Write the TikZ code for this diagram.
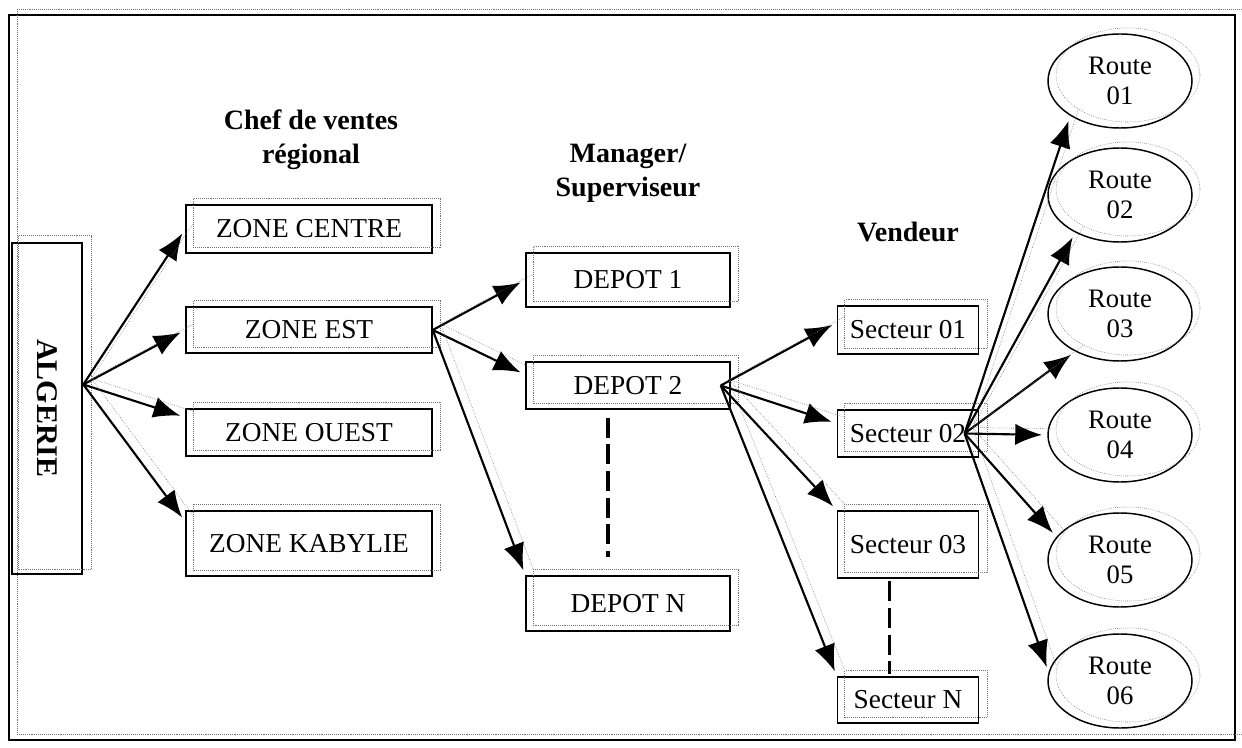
\documentclass[tikz,border=0pt]{standalone}
\usepackage{fontspec}
\setmainfont{Liberation Serif}
\usetikzlibrary{arrows.meta,shapes.geometric}

\begin{document}
\begin{tikzpicture}[x=0.75pt,y=0.75pt,yscale=-1,xscale=1,
  box/.style={draw, line width=1.1pt, inner sep=0pt, font=\fontsize{20.5}{24}\selectfont},
  route/.style={draw, ellipse, line width=1.1pt, minimum width=108pt, minimum height=70.5pt, inner sep=0pt, align=center, font=\fontsize{20}{22.5}\selectfont},
  heading/.style={align=center, font=\bfseries\fontsize{21}{25.5}\selectfont},
  arr/.style={line width=1.6pt, -{Latex[length=20pt,width=16pt]}, shorten >=4pt},
  ghost/.style={draw=black!55, line width=0.45pt, densely dotted, transform canvas={xshift=6pt,yshift=4.5pt}},
  dashlink/.style={line width=2.6pt, dash pattern=on 15pt off 5pt}
]
\useasboundingbox (0,0) rectangle (1242,748);

%Frame
\draw [line width=1.5pt] (9,15) rectangle (1235,740) ;
\draw [ghost] (9,15) rectangle (1235,740) ;

% Text Node
\node [box, line width=2pt, minimum width=52.5pt, minimum height=248.25pt] (alg) at (47,408.5) {\rotatebox{-90}{\bfseries\fontsize{22.5}{26}\selectfont ALGERIE}};
\coordinate (algout) at ([yshift=-18pt]alg.east);

% Text Node
\node [heading] (hchef) at (311,140) {Chef de ventes\\régional};
% Text Node
\node [heading] (hman) at (628,173.5) {Manager/\\Superviseur};
% Text Node
\node [heading] (hvend) at (908,232) {Vendeur};

% Text Node
\node [box, minimum width=184.5pt, minimum height=36pt] (zc) at (309,229) {ZONE CENTRE};
% Text Node
\node [box, minimum width=184.5pt, minimum height=34.5pt] (zest) at (309,330) {ZONE EST};
% Text Node
\node [box, minimum width=184.5pt, minimum height=35.25pt] (zo) at (309,432.5) {ZONE OUEST};
% Text Node
\node [box, minimum width=184.5pt, minimum height=48.75pt] (zk) at (309,543.5) {ZONE KABYLIE};

% Text Node
\node [box, minimum width=153pt, minimum height=40.5pt] (dep1) at (628,280) {DEPOT 1};
% Text Node
\node [box, minimum width=153pt, minimum height=35.25pt] (dep2) at (628,385.5) {DEPOT 2};
% Text Node
\node [box, minimum width=153pt, minimum height=41.25pt] (depN) at (628,603.5) {DEPOT N};
\coordinate (dep2out) at ([xshift=-7.5pt]dep2.east);

% Text Node
\node [box, minimum width=105.75pt, minimum height=36pt] (s1) at (908,330) {Secteur 01};
% Text Node
\node [box, minimum width=105.75pt, minimum height=35.25pt] (s2) at (908,433.5) {Secteur 02};
% Text Node
\node [box, minimum width=105.75pt, minimum height=50.25pt] (s3) at (908,544.5) {Secteur 03};
% Text Node
\node [box, minimum width=105.75pt, minimum height=34.5pt] (sN) at (908,700) {Secteur N};
\coordinate (s2out) at ([xshift=-11pt]s2.east);

%Shape: Ellipse
\node [route] (r1) at (1120,81) {Route\\01};
\node [route] (r2) at (1120,195) {Route\\02};
\node [route] (r3) at (1120,314) {Route\\03};
\node [route] (r4) at (1120,435) {Route\\04};
\node [route] (r5) at (1120,560) {Route\\05};
\node [route] (r6) at (1120,681) {Route\\06};

%Ghost outlines
\draw [ghost] (alg.south west) rectangle (alg.north east) ;
\draw [ghost] (zc.south west) rectangle (zc.north east) ;
\draw [ghost] (zest.south west) rectangle (zest.north east) ;
\draw [ghost] (zo.south west) rectangle (zo.north east) ;
\draw [ghost] (zk.south west) rectangle (zk.north east) ;
\draw [ghost] (dep1.south west) rectangle (dep1.north east) ;
\draw [ghost] (dep2.south west) rectangle (dep2.north east) ;
\draw [ghost] (depN.south west) rectangle (depN.north east) ;
\draw [ghost] (s1.south west) rectangle (s1.north east) ;
\draw [ghost] (s2.south west) rectangle (s2.north east) ;
\draw [ghost] (s3.south west) rectangle (s3.north east) ;
\draw [ghost] (sN.south west) rectangle (sN.north east) ;
\draw [ghost] (r1) ellipse [x radius=72, y radius=47] ;
\draw [ghost] (r2) ellipse [x radius=72, y radius=47] ;
\draw [ghost] (r3) ellipse [x radius=72, y radius=47] ;
\draw [ghost] (r4) ellipse [x radius=72, y radius=47] ;
\draw [ghost] (r5) ellipse [x radius=72, y radius=47] ;
\draw [ghost] (r6) ellipse [x radius=72, y radius=47] ;

%Straight Lines
\draw [arr] (algout) -- (zc.west) ;
\draw [ghost] (algout) -- (zc.west) ;
\draw [arr] (algout) -- (zest.west) ;
\draw [ghost] (algout) -- (zest.west) ;
\draw [arr] (algout) -- (zo.173) ;
\draw [ghost] (algout) -- (zo.173) ;
\draw [arr] (algout) -- (zk.170) ;
\draw [ghost] (algout) -- (zk.170) ;

%Straight Lines
\draw [arr] (zest.east) -- (dep1.west) ;
\draw [ghost] (zest.east) -- (dep1.west) ;
\draw [arr] (zest.east) -- (dep2.174) ;
\draw [ghost] (zest.east) -- (dep2.174) ;
\draw [arr] (zest.east) -- (depN.north west) ;
\draw [ghost] (zest.east) -- (depN.north west) ;

%Straight Lines
\draw [arr] (dep2out) -- (s1.174) ;
\draw [ghost] (dep2out) -- (s1.174) ;
\draw [arr] (dep2out) -- (s2.172) ;
\draw [ghost] (dep2out) -- (s2.172) ;
\draw [arr] (dep2out) -- (s3.north west) ;
\draw [ghost] (dep2out) -- (s3.north west) ;
\draw [arr] (dep2out) -- (sN.north west) ;
\draw [ghost] (dep2out) -- (sN.north west) ;

%Straight Lines
\draw [arr] (s2out) -- (r1.215) ;
\draw [ghost] (s2out) -- (r1.215) ;
\draw [arr] (s2out) -- (r2.220) ;
\draw [ghost] (s2out) -- (r2.220) ;
\draw [arr] (s2out) -- (r3.220) ;
\draw [ghost] (s2out) -- (r3.220) ;
\draw [arr] (s2out) -- (r4.west) ;
\draw [ghost] (s2out) -- (r4.west) ;
\draw [arr] (s2out) -- (r5.160) ;
\draw [ghost] (s2out) -- (r5.160) ;
\draw [arr] (s2out) -- (r6.173) ;
\draw [ghost] (s2out) -- (r6.173) ;

%Dashed Lines
\draw [dashlink, shorten <=6pt, shorten >=14pt] ([xshift=-15pt]dep2.south) -- ([xshift=-15pt]depN.north) ;
\draw [dashlink, shorten <=2pt, shorten >=2pt] ([xshift=-14pt]s3.south) -- ([xshift=-14pt]sN.north) ;

\end{tikzpicture}
\end{document}
